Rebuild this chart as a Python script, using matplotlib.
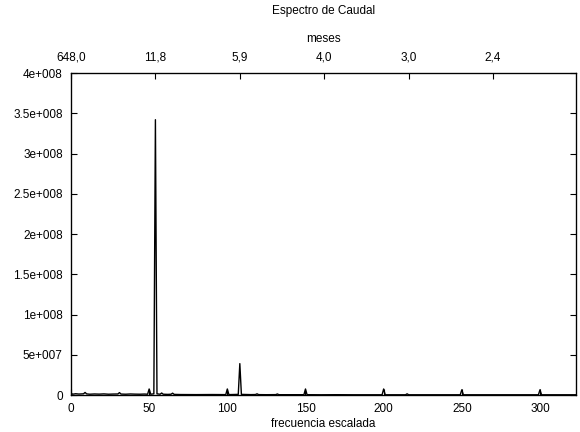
import matplotlib
matplotlib.use("Agg")
import matplotlib.pyplot as plt

plt.rcParams['font.family'] = ['Liberation Sans', 'DejaVu Sans']
plt.rcParams['font.size'] = 8.5

# frecuencia escalada vs potencia (sparse: baseline points plus spikes)
freq = [0, 1, 3, 5, 8, 9, 10, 12, 15, 18, 21, 24, 27, 30, 31, 32, 35, 38, 41, 44, 47,
        49, 50, 51, 53, 54, 55, 57, 58, 59, 62, 64, 65, 66, 70, 80, 90, 99, 100, 101,
        107, 108, 109, 115, 118, 119, 120, 125, 131, 132, 133, 140, 149, 150, 151,
        160, 170, 180, 199, 200, 201, 214, 215, 216, 230, 249, 250, 251, 270, 290,
        299, 300, 301, 315, 323]
power = [2.5e6, 1.0e6, 1.6e6, 1.2e6, 1.5e6, 3.2e6, 1.4e6, 1.0e6, 1.3e6, 1.1e6, 1.4e6,
         1.0e6, 1.2e6, 1.3e6, 3.0e6, 1.2e6, 1.0e6, 1.3e6, 1.1e6, 1.0e6, 1.2e6,
         1.0e6, 7.5e6, 1.0e6, 1.5e6, 3.42e8, 1.5e6, 1.0e6, 2.5e6, 1.0e6, 0.8e6, 1.0e6,
         2.3e6, 0.8e6, 0.6e6, 0.5e6, 0.6e6, 0.5e6, 7.5e6, 0.5e6,
         0.8e6, 3.9e7, 0.8e6, 0.5e6, 0.6e6, 1.5e6, 0.5e6, 0.4e6, 0.5e6, 1.3e6, 0.4e6,
         0.4e6, 0.4e6, 7.5e6, 0.4e6,
         0.3e6, 0.4e6, 0.3e6, 0.3e6, 7.5e6, 0.3e6, 0.3e6, 1.5e6, 0.3e6, 0.3e6, 0.3e6,
         6.5e6, 0.3e6, 0.3e6, 0.3e6, 0.3e6, 6.5e6, 0.3e6, 0.3e6, 0.3e6]

y_ticks = [0, 5e7, 1e8, 1.5e8, 2e8, 2.5e8, 3e8, 3.5e8, 4e8]
y_labels = ['0', '5e+007', '1e+008', '1.5e+008', '2e+008', '2.5e+008', '3e+008',
            '3.5e+008', '4e+008']
x_ticks = [0, 50, 100, 150, 200, 250, 300]
meses_pos = [0, 54, 108, 162, 216, 270]
meses_labels = ['648,0', '11,8', '5,9', '4,0', '3,0', '2,4']

fig = plt.figure(figsize=(5.8, 4.32), dpi=100)
ax = fig.add_axes([0.1224, 0.0856, 0.8706, 0.7454])

ax.plot(freq, power, color='black', lw=1.0)
ax.set_xlim(0, 323)
ax.set_ylim(0, 4e8)
ax.set_xticks(x_ticks)
ax.set_yticks(y_ticks)
ax.set_yticklabels(y_labels)
ax.tick_params(direction='in', length=4.5, width=0.8, right=True, top=False)
ax.tick_params(axis='y', pad=6)
ax.tick_params(axis='x', pad=6)
ax.set_xlabel('frecuencia escalada', labelpad=2)
for s in ax.spines.values():
    s.set_linewidth(0.9)

ax2 = ax.twiny()
ax2.set_xlim(ax.get_xlim())
ax2.set_xticks(meses_pos)
ax2.set_xticklabels(meses_labels)
ax2.tick_params(direction='in', length=4.5, width=0.8, pad=7)
ax2.set_xlabel('meses', labelpad=7)

fig.text(0.5 + 0.0576, 1 - 11 / 432, 'Espectro de Caudal', ha='center', va='center')

fig.savefig('out.png', dpi=100)
